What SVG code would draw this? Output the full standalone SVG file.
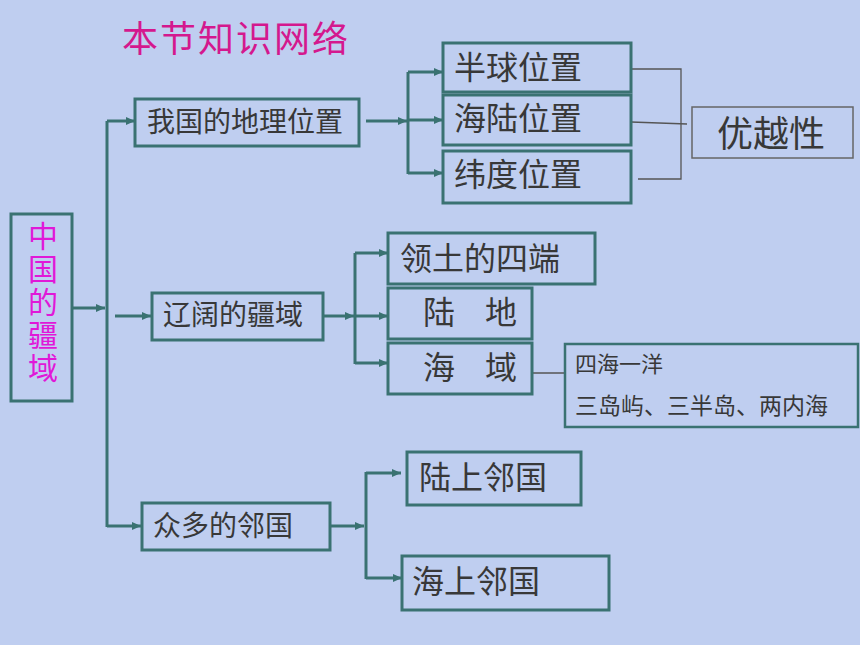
<svg xmlns="http://www.w3.org/2000/svg" width="860" height="645" viewBox="0 0 860 645">
<defs>
<marker id="ah" markerUnits="userSpaceOnUse" markerWidth="9" markerHeight="8" refX="9" refY="4" orient="auto">
<path d="M0,0 L9,4 L0,8 z" fill="#3a7272"/>
</marker>
<style>
.box{fill:none;stroke:#3a7272;stroke-width:3}
.thin{fill:none;stroke:#666;stroke-width:1.5}
.t{font-family:"Noto Sans CJK SC","Noto Sans CJK JP",sans-serif;fill:#383838;dominant-baseline:central}
.v{font-family:"Noto Sans CJK SC","Noto Sans CJK JP",sans-serif;fill:#e018d8;font-size:30px;writing-mode:vertical-rl;letter-spacing:3px}
.c{fill:none;stroke:#3a7272;stroke-width:3}
.ca{fill:none;stroke:#3a7272;stroke-width:3;marker-end:url(#ah)}
.g{fill:none;stroke:#555;stroke-width:1.3}
</style>
</defs>
<rect width="860" height="645" fill="#bfcef0"/>
<text x="122" y="36" class="t" style="fill:#d4188e;font-size:36px;letter-spacing:2px">本节知识网络</text>

<g id="connectors">
<line class="c" x1="107" y1="121" x2="107" y2="527"/>
<line class="ca" x1="107" y1="121" x2="135" y2="121"/>
<line class="ca" x1="72" y1="308" x2="105" y2="308"/>
<line class="ca" x1="115" y1="316" x2="151" y2="316"/>
<line class="ca" x1="107" y1="526" x2="141" y2="526"/>
<line class="ca" x1="366" y1="121" x2="407" y2="121"/>
<line class="c" x1="408" y1="72" x2="408" y2="174"/>
<line class="ca" x1="408" y1="72" x2="443" y2="72"/>
<line class="ca" x1="408" y1="120" x2="443" y2="120"/>
<line class="ca" x1="408" y1="173" x2="443" y2="173"/>
<line class="ca" x1="323" y1="316" x2="354" y2="316"/>
<line class="c" x1="355" y1="253" x2="355" y2="364"/>
<line class="ca" x1="355" y1="253" x2="388" y2="253"/>
<line class="ca" x1="355" y1="316" x2="388" y2="316"/>
<line class="ca" x1="355" y1="363" x2="388" y2="363"/>
<line class="ca" x1="330" y1="526" x2="364" y2="526"/>
<line class="c" x1="366" y1="472" x2="366" y2="579"/>
<line class="ca" x1="366" y1="473" x2="401" y2="473"/>
<line class="ca" x1="366" y1="578" x2="402" y2="578"/>
<path class="g" d="M631,69 H681 V179 H638"/>
<line class="g" x1="631" y1="122" x2="687" y2="124"/>
<line class="g" x1="532" y1="373" x2="565" y2="373"/>
</g>

<g id="n-china">
<rect class="box" x="11" y="214" width="61" height="187"/>
<text class="v" x="43" y="221">中国的疆域</text>
</g>
<g id="n-location">
<rect class="box" x="135" y="99" width="224" height="47"/>
<text class="t" x="147" y="120" font-size="28">我国的地理位置</text>
</g>
<g id="n-hemisphere">
<rect class="box" x="443" y="43" width="188" height="49"/>
<text class="t" x="454" y="65" font-size="32">半球位置</text>
</g>
<g id="n-sealand">
<rect class="box" x="443" y="95" width="188" height="50"/>
<text class="t" x="454" y="116" font-size="32">海陆位置</text>
</g>
<g id="n-latitude">
<rect class="box" x="443" y="151" width="188" height="52"/>
<text class="t" x="454" y="172" font-size="32">纬度位置</text>
</g>
<g id="n-advantage">
<rect class="thin" x="692" y="107" width="161" height="51"/>
<text class="t" x="717" y="131" font-size="36">优越性</text>
</g>
<g id="n-territory">
<rect class="box" x="152" y="293" width="171" height="47"/>
<text class="t" x="163" y="313" font-size="28">辽阔的疆域</text>
</g>
<g id="n-extremes">
<rect class="box" x="388" y="233" width="207" height="51"/>
<text class="t" x="400" y="256" font-size="32">领土的四端</text>
</g>
<g id="n-land">
<rect class="box" x="388" y="288" width="144" height="51"/>
<text class="t" x="423" y="310" font-size="32">陆</text>
<text class="t" x="485" y="310" font-size="32">地</text>
</g>
<g id="n-sea">
<rect class="box" x="388" y="343" width="144" height="51"/>
<text class="t" x="423" y="365" font-size="32">海</text>
<text class="t" x="485" y="365" font-size="32">域</text>
</g>
<g id="n-seadetail">
<rect class="box" style="stroke-width:2.5" x="565" y="344" width="293" height="83"/>
<text class="t" x="575" y="362" font-size="22">四海一洋</text>
<text class="t" x="575" y="404" font-size="23">三岛屿、三半岛、两内海</text>
</g>
<g id="n-neighbors">
<rect class="box" x="142" y="503" width="188" height="47"/>
<text class="t" x="153" y="524" font-size="28">众多的邻国</text>
</g>
<g id="n-landneighbors">
<rect class="box" x="407" y="452" width="174" height="53"/>
<text class="t" x="419" y="475" font-size="32">陆上邻国</text>
</g>
<g id="n-seaneighbors">
<rect class="box" x="402" y="556" width="207" height="54"/>
<text class="t" x="412" y="579" font-size="32">海上邻国</text>
</g>
</svg>
